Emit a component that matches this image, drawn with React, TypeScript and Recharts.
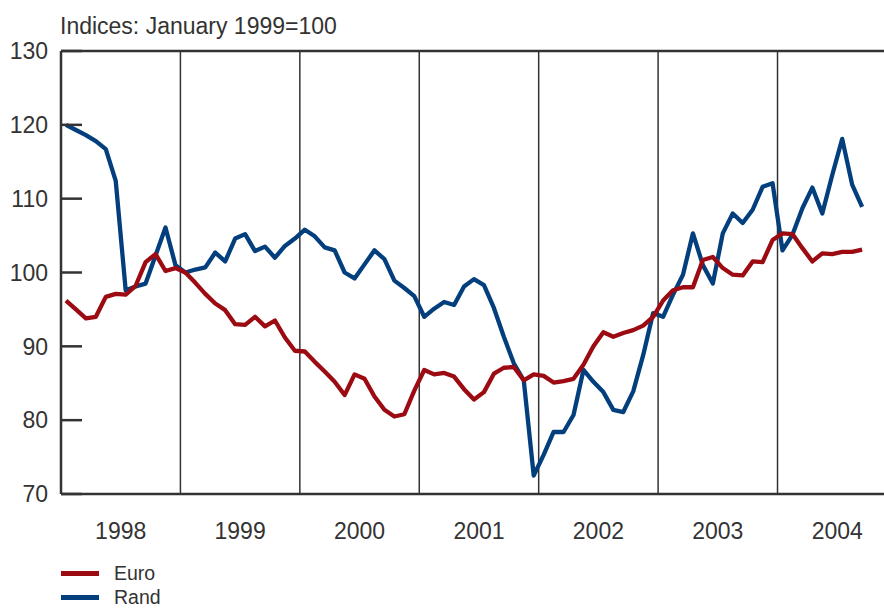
import { LineChart, Line, XAxis, YAxis, ReferenceLine } from 'recharts'

const years = ['1998', '1999', '2000', '2001', '2002', '2003', '2004']
const yTicks = [70, 80, 90, 100, 110, 120, 130]

// monthly indices, Jan 1998 to Sep 2004 (January 1999 = 100)
const euro = [
  96.2, 95.0, 93.8, 94.0, 96.7, 97.1, 97.0, 98.2, 101.4, 102.5, 100.2, 100.6,
  100.0, 98.6, 97.1, 95.8, 94.9, 93.0, 92.9, 94.0, 92.7, 93.5, 91.2, 89.4,
  89.3, 87.9, 86.6, 85.2, 83.4, 86.2, 85.6, 83.2, 81.4, 80.5, 80.8, 84.0,
  86.8, 86.2, 86.4, 85.9, 84.2, 82.8, 83.8, 86.3, 87.1, 87.2, 85.4, 86.2,
  86.0, 85.1, 85.3, 85.6, 87.5, 90.0, 91.9, 91.3, 91.8, 92.2, 92.8, 94.0,
  96.2, 97.6, 98.0, 98.0, 101.7, 102.1, 100.6, 99.7, 99.6, 101.5, 101.4, 104.4,
  105.3, 105.2, 103.3, 101.5, 102.6, 102.5, 102.8, 102.8, 103.1,
]

const rand = [
  120.0, 119.3, 118.6, 117.8, 116.7, 112.4, 97.6, 98.1, 98.5, 102.3, 106.1, 101.0,
  100.0, 100.4, 100.7, 102.7, 101.5, 104.6, 105.2, 102.9, 103.5, 102.0, 103.6, 104.6,
  105.8, 104.9, 103.4, 103.0, 100.0, 99.2, 101.1, 103.0, 101.8, 98.9, 97.9, 96.8,
  94.0, 95.1, 96.0, 95.6, 98.1, 99.1, 98.3, 95.2, 91.3, 87.7, 85.4, 72.5,
  75.3, 78.4, 78.4, 80.7, 86.8, 85.2, 83.8, 81.4, 81.1, 83.9, 88.8, 94.5,
  94.0, 97.0, 99.7, 105.3, 101.0, 98.5, 105.3, 108.0, 106.7, 108.5, 111.6, 112.1,
  103.0, 105.1, 108.7, 111.5, 108.0, 113.2, 118.1, 111.9, 108.9,
]

// mid-month position on a month axis
const data = euro.map((v, i) => ({ month: i + 0.5, euro: v, rand: rand[i] }))
const yearStarts = years.slice(1).map((_, i) => (i + 1) * 12)
const yearMids = years.map((_, i) => i * 12 + 6)

const FONT = '"Liberation Sans", Arial, Helvetica, sans-serif'
const INK = '#333333'
const EURO = '#9c0a12'
const RAND = '#033f7c'

function YTick(props: any) {
  const { x, y, payload } = props
  return (
    <g>
      <line x1={x + 13} x2={x + 34} y1={y} y2={y} stroke={INK} strokeWidth={2.5} />
      <text x={x} y={y} dy="0.36em" textAnchor="end" fill={INK} fontSize={23} fontFamily={FONT}>
        {payload.value}
      </text>
    </g>
  )
}

const legendItems = [
  { name: 'Euro', color: EURO },
  { name: 'Rand', color: RAND },
]

export default function App() {
  return (
    <div style={{ position: 'absolute', left: 0, top: 0, width: 884, height: 608, fontFamily: FONT, color: INK }}>
      <div style={{ position: 'absolute', left: 60, top: 15, fontSize: 23, lineHeight: 1, whiteSpace: 'nowrap' }}>
        Indices: January 1999=100
      </div>
      <LineChart width={884} height={608} data={data} margin={{ top: 51, right: 0, left: 0, bottom: 54 }}>
        {yearStarts.map((s) => (
          <ReferenceLine key={s} x={s} stroke={INK} strokeWidth={1.5} />
        ))}
        <ReferenceLine y={130} stroke={INK} strokeWidth={2.5} />
        <XAxis
          type="number"
          dataKey="month"
          domain={[0, 82.7]}
          allowDataOverflow
          ticks={yearMids}
          interval={0}
          tickFormatter={(v: number) => years[Math.round((v - 6) / 12)]}
          tickLine={false}
          tickSize={0}
          tickMargin={29}
          axisLine={{ stroke: INK, strokeWidth: 2.5 }}
          tick={{ fill: INK, fontSize: 23, fontFamily: FONT }}
          height={60}
        />
        <YAxis
          type="number"
          domain={[70, 130]}
          ticks={yTicks}
          interval={0}
          width={61}
          tickLine={false}
          tickSize={0}
          tickMargin={13}
          axisLine={{ stroke: INK, strokeWidth: 2.5 }}
          tick={(p: any) => <YTick {...p} />}
        />
        <Line
          type="linear"
          dataKey="rand"
          stroke={RAND}
          strokeWidth={4.3}
          strokeLinejoin="round"
          dot={false}
          isAnimationActive={false}
        />
        <Line
          type="linear"
          dataKey="euro"
          stroke={EURO}
          strokeWidth={4.3}
          strokeLinejoin="round"
          dot={false}
          isAnimationActive={false}
        />
      </LineChart>
      <div style={{ position: 'absolute', left: 61, top: 561, fontSize: 19.5 }}>
        {legendItems.map((it) => (
          <div key={it.name} style={{ display: 'flex', alignItems: 'center', height: 24.5 }}>
            <span style={{ display: 'inline-block', width: 38, height: 5, background: it.color, marginRight: 15 }} />
            <span style={{ lineHeight: 1 }}>{it.name}</span>
          </div>
        ))}
      </div>
    </div>
  )
}
